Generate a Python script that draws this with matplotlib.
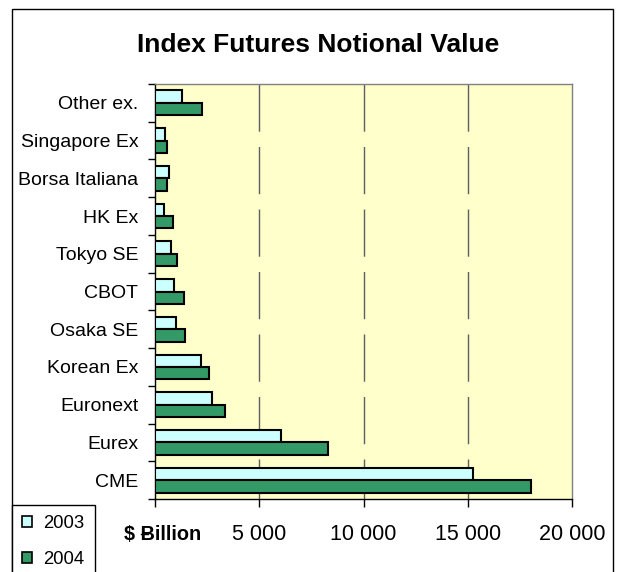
import matplotlib
matplotlib.use("Agg")
import matplotlib.pyplot as plt
import numpy as np
from matplotlib.patches import Rectangle, Patch
from matplotlib.lines import Line2D

plt.rcParams['font.family'] = ['Liberation Sans', 'DejaVu Sans']

categories = ["Other ex.", "Singapore Ex", "Borsa Italiana", "HK Ex", "Tokyo SE",
              "CBOT", "Osaka SE", "Korean Ex", "Euronext", "Eurex", "CME"]
values_2003 = [1280, 500, 670, 420, 770, 930, 1010, 2210, 2750, 6030, 15270]
values_2004 = [2240, 580, 580, 850, 1040, 1380, 1440, 2570, 3360, 8280, 18030]
series_names = ["2003", "2004"]
x_ticks = [0, 5000, 10000, 15000, 20000]
x_tick_labels = ["", "5 000", "10 000", "15 000", "20 000"]

W, H = 625, 572
fig = plt.figure(figsize=(W / 100, H / 100), dpi=100)

# outer chart frame
fig.patches.append(Rectangle((12 / W, -0.05), (613 - 12) / W, 1 - 9 / H + 0.05,
                             transform=fig.transFigure, fill=False,
                             edgecolor='black', linewidth=1.0))

ax = fig.add_axes([155 / W, 1 - 499 / H, (572 - 155) / W, (499 - 84) / H])
ax.set_facecolor('#FFFFCC')

n = len(categories)
y = np.arange(n)
bh = 0.33
ax.barh(y - bh / 2, values_2003, height=bh, color='#CCFFFF', edgecolor='black',
        linewidth=1.5, label=series_names[0], zorder=3)
ax.barh(y + bh / 2, values_2004, height=bh, color='#339966', edgecolor='black',
        linewidth=1.5, label=series_names[1], zorder=3)

ax.set_ylim(n - 0.5, -0.5)
ax.set_xlim(0, 20000)

# gridlines (long dash), drawn top to bottom
for xv in x_ticks[1:-1]:
    ax.plot([xv, xv], [1, 0], transform=ax.get_xaxis_transform(), color='#606060',
            linewidth=1.0, linestyle=(0, (34, 11)), zorder=1)

ax.set_yticks(y)
ax.set_yticklabels(categories, fontsize=14)
ax.set_yticks(np.arange(-0.5, n, 1.0), minor=True)
ax.tick_params(axis='y', which='major', length=0, pad=12)
ax.tick_params(axis='y', which='minor', length=5, width=1, direction='out')

ax.set_xticks(x_ticks)
ax.set_xticklabels(x_tick_labels, fontsize=15.5)
ax.tick_params(axis='x', which='major', length=6, width=1, direction='out', pad=12)

for s in ['top', 'right']:
    ax.spines[s].set_color('#808080')
    ax.spines[s].set_linewidth(1.0)
for s in ['left', 'bottom']:
    ax.spines[s].set_color('black')
    ax.spines[s].set_linewidth(1.0)

fig.text(318 / W, 1 - 45 / H, "Index Futures Notional Value", fontsize=19,
         fontweight='bold', ha='center', va='center')

fig.text(163 / W, 1 - 534 / H, "$ Billion", fontsize=14.3, fontweight='bold',
         ha='center', va='center')
# the thin zero-dash that crosses the axis title
fig.add_artist(Line2D([141 / W, 148 / W], [1 - 534 / H, 1 - 534 / H],
                      transform=fig.transFigure, color='black', linewidth=1.0))

handles = [Patch(facecolor='#CCFFFF', edgecolor='black', linewidth=1.2),
           Patch(facecolor='#339966', edgecolor='black', linewidth=1.2)]
leg = fig.legend(handles, series_names, loc='upper left',
                 bbox_to_anchor=(12 / W, 1 - 505 / H), fontsize=13.3,
                 frameon=True, fancybox=False, edgecolor='black', framealpha=1,
                 borderpad=0.55, labelspacing=1.0, handlelength=0.55,
                 handleheight=0.55, handletextpad=0.6, borderaxespad=0)
leg.get_frame().set_linewidth(1.0)

fig.savefig("out.png", dpi=100)
